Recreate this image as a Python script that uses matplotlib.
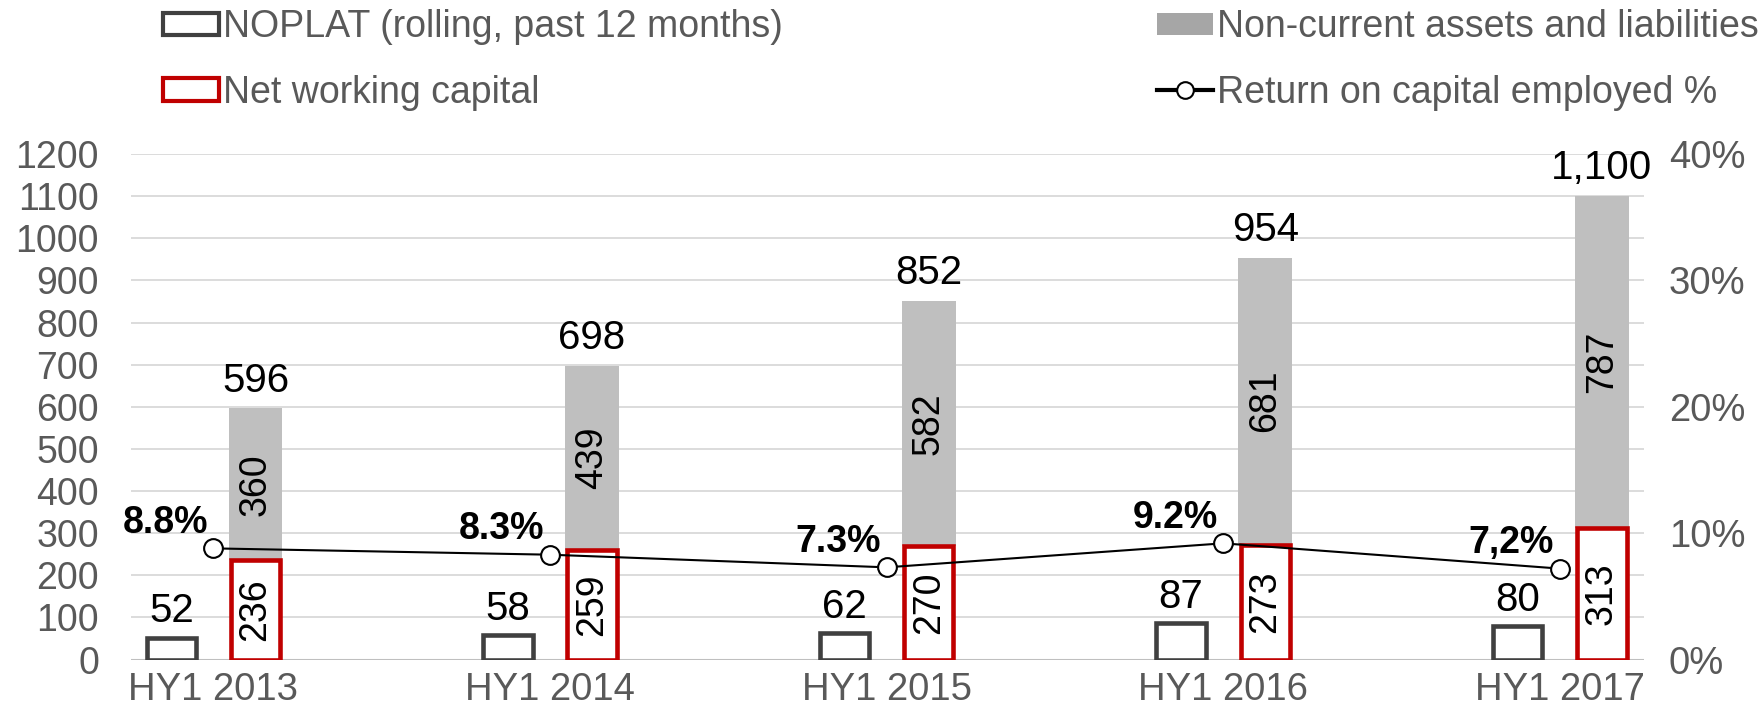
import matplotlib
matplotlib.use("Agg")
import matplotlib.pyplot as plt
import numpy as np
from matplotlib.patches import Patch
from matplotlib.lines import Line2D

plt.rcParams['font.family'] = ['Liberation Sans', 'DejaVu Sans']

# data
periods = ["HY1 2013", "HY1 2014", "HY1 2015", "HY1 2016", "HY1 2017"]
noplat = [52, 58, 62, 87, 80]
nwc = [236, 259, 270, 273, 313]
non_current = [360, 439, 582, 681, 787]
roce = [8.8, 8.3, 7.3, 9.2, 7.2]
roce_labels = ["8.8%", "8.3%", "7.3%", "9.2%", "7,2%"]

legend_labels = ["NOPLAT (rolling, past 12 months)", "Net working capital",
                 "Non-current assets and liabilities", "Return on capital employed %"]

grey_txt = '#595959'

fig = plt.figure(figsize=(17.62, 7.19), dpi=100)
ax = fig.add_axes([0.0743, 0.0826, 0.8587, 0.7032])
ax2 = ax.twinx()

x = np.arange(len(periods))
w = 0.16
off = 0.125
lw = 3.3
lw_data = lw / 72 * 100 / 336.75  # edge width in x-units

# bars
ax.bar(x - off, noplat, w - lw_data, facecolor='white', edgecolor='#404040', linewidth=lw, zorder=3)
ax.bar(x + off, non_current, w, bottom=nwc, color='#BFBFBF', zorder=2)
ax.bar(x + off, nwc, w - lw_data, facecolor='white', edgecolor='#C00000', linewidth=lw, zorder=3)

totals = [a + b for a, b in zip(nwc, non_current)]
for i in range(len(periods)):
    ax.annotate(str(noplat[i]), (x[i] - off, noplat[i]), xytext=(0, 11), textcoords='offset points',
                ha='center', va='baseline', fontsize=29, color='black')
    ax.annotate(f"{totals[i]:,}", (x[i] + off, totals[i]), xytext=(0, 12), textcoords='offset points',
                ha='center', va='baseline', fontsize=29, color='black')
    ax.text(x[i] + off, nwc[i] / 2, str(nwc[i]), rotation=90, ha='center', va='center',
            fontsize=27, color='black', zorder=4)
    ax.text(x[i] + off, nwc[i] + non_current[i] / 2, str(non_current[i]), rotation=90,
            ha='center', va='center', fontsize=27, color='black', zorder=4)

# ROCE line
ax2.plot(x, roce, color='black', lw=1.5, marker='o', ms=13.5, mfc='white', mec='black', mew=1.5, zorder=5)
for i in range(len(periods)):
    ax2.annotate(roce_labels[i], (x[i], roce[i]), xytext=(-4, 11), textcoords='offset points',
                 ha='right', va='baseline', fontsize=27, fontweight='bold', color='black')

# axes
ax.set_xlim(-0.245, 4.25)
ax.set_ylim(0, 1200)
ax2.set_ylim(0, 40)
ax.set_yticks(range(0, 1201, 100))
ax2.set_yticks(range(0, 41, 10))
ax2.set_yticklabels([f"{v}%" for v in range(0, 41, 10)])
ax.set_xticks(x)
ax.set_xticklabels(periods)

ax.yaxis.grid(True, color='#D9D9D9', lw=1.3)
ax.set_axisbelow(True)
ax.axhline(0, color='#BFBFBF', lw=1.5, zorder=1)
for a in (ax, ax2):
    for s in a.spines.values():
        s.set_visible(False)
ax.tick_params(axis='y', length=0, labelsize=27, colors=grey_txt, pad=23)
ax.tick_params(axis='x', length=0, labelsize=27.5, colors=grey_txt, pad=9)
ax2.tick_params(axis='y', length=0, labelsize=27.5, colors=grey_txt, pad=18)

# legend (two columns placed separately)
h1 = Patch(facecolor='white', edgecolor='#404040', linewidth=3)
h2 = Patch(facecolor='white', edgecolor='#C00000', linewidth=3)
h3 = Patch(facecolor='#A6A6A6', edgecolor='none')
h4 = Line2D([], [], color='black', lw=3, marker='o', ms=12, mfc='white', mec='black', mew=1.5)
kw = dict(loc='upper left', frameon=False, fontsize=27, handlelength=1.5, handleheight=0.55,
          handletextpad=0.1, labelspacing=0.78, borderaxespad=0, borderpad=0, labelcolor=grey_txt)
leg1 = fig.legend([h1, h2], legend_labels[:2], bbox_to_anchor=(0.0925, 0.987), **kw)
leg2 = fig.legend([h3, h4], legend_labels[2:], bbox_to_anchor=(0.6567, 0.987), **kw)

fig.savefig("out.png", dpi=100)
